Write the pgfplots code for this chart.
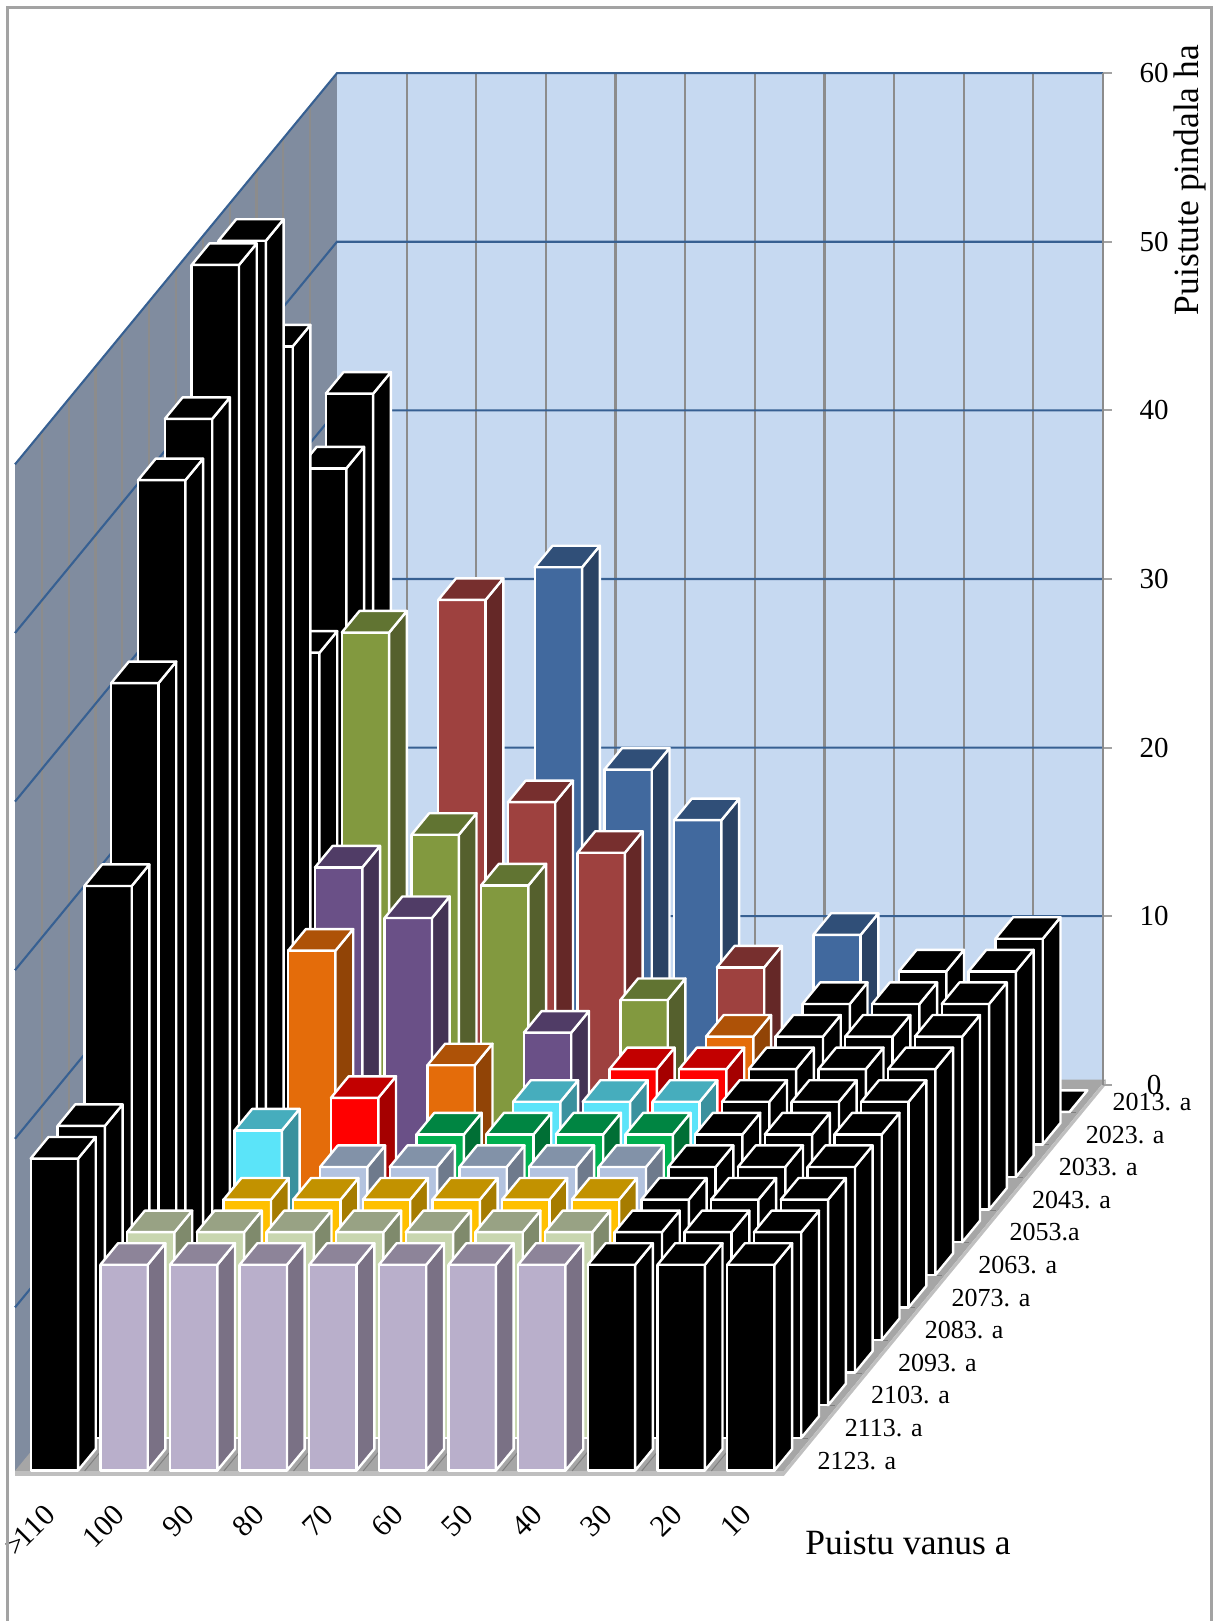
\documentclass[border=0pt]{standalone}
\usepackage{fontspec}
\setmainfont{Liberation Serif}
\usepackage{pgfplots}
\usepackage{pgfplotstable}
\pgfplotsset{compat=1.18}

% Stand area (ha) by age class (columns) and forecast year (rows, front to back)
\pgfplotstableread{
year c0 c1 c2 c3 c4 c5 c6 c7 c8 c9 c10
2123 18.5 12.2 12.2 12.2 12.2 12.2 12.2 12.2 12.2 12.2 12.2
2113 18.5 12.2 12.2 12.2 12.2 12.2 12.2 12.2 12.2 12.2 12.2
2103 30.8 0 12.2 12.2 12.2 12.2 12.2 12.2 12.2 12.2 12.2
2093 40.9 0 0 12.2 12.2 12.2 12.2 12.2 12.2 12.2 12.2
2083 51.0 0 0 0 12.2 12.2 12.2 12.2 12.2 12.2 12.2
2073 52.7 10.5 0 0 0 12.2 12.2 12.2 12.2 12.2 12.2
2063 59.9 0 10.5 0 0 0 12.2 12.2 12.2 12.2 12.2
2053 59.4 17.3 0 10.5 0 0 0 12.2 12.2 12.2 12.2
2043 51.2 20.3 17.3 0 10.5 0 0 0 12.2 12.2 12.2
2033 31.1 32.3 20.3 17.3 0 10.5 0 0 0 12.2 12.2
2023 40.1 0 32.3 20.3 17.3 0 10.5 0 0 0 12.2
2013 42.6 0 0 32.3 20.3 17.3 0 10.5 0 0 0
}\heights

% Face colours of the bars: front, top, right side
\definecolor{fk}{HTML}{000000}\definecolor{tk}{HTML}{000000}\definecolor{sk}{HTML}{000000}
\definecolor{f0}{HTML}{B9AFCB}\definecolor{t0}{HTML}{8D8499}\definecolor{s0}{HTML}{7A7185}
\definecolor{f1}{HTML}{C8D6AF}\definecolor{t1}{HTML}{98A284}\definecolor{s1}{HTML}{7F8A6C}
\definecolor{f2}{HTML}{FFC000}\definecolor{t2}{HTML}{C29200}\definecolor{s2}{HTML}{A67C00}
\definecolor{f3}{HTML}{B3C3DF}\definecolor{t3}{HTML}{8292A8}\definecolor{s3}{HTML}{6E7A8C}
\definecolor{f4}{HTML}{00B050}\definecolor{t4}{HTML}{008542}\definecolor{s4}{HTML}{006F35}
\definecolor{f5}{HTML}{5BE4F9}\definecolor{t5}{HTML}{46ADBD}\definecolor{s5}{HTML}{3A919E}
\definecolor{f6}{HTML}{FF0000}\definecolor{t6}{HTML}{C20000}\definecolor{s6}{HTML}{A50000}
\definecolor{f7}{HTML}{E46C0A}\definecolor{t7}{HTML}{AE5207}\definecolor{s7}{HTML}{914406}
\definecolor{f8}{HTML}{6A5087}\definecolor{t8}{HTML}{503C66}\definecolor{s8}{HTML}{433254}
\definecolor{f9}{HTML}{82993F}\definecolor{t9}{HTML}{617432}\definecolor{s9}{HTML}{55602D}
\definecolor{f10}{HTML}{9E413F}\definecolor{t10}{HTML}{772F2E}\definecolor{s10}{HTML}{652827}
\definecolor{f11}{HTML}{41699E}\definecolor{t11}{HTML}{304F78}\definecolor{s11}{HTML}{2A4264}
\definecolor{backwall}{HTML}{C6D9F1}
\definecolor{sidewall}{HTML}{808C9F}
\definecolor{floortop}{HTML}{A6A6A6}
\definecolor{floorrim}{HTML}{BFBFBF}
\definecolor{gridblue}{HTML}{376092}
\definecolor{gridgrey}{HTML}{8C8C8C}
\definecolor{framegrey}{HTML}{A3A3A3}

% One square column: x cell #1, depth cell #2, height #3, colour suffix #4
\newcommand{\column}[4]{%
  \pgfmathsetmacro{\xa}{#1+0.16}\pgfmathsetmacro{\xb}{#1+0.84}%
  \pgfmathsetmacro{\ya}{#2+0.17}\pgfmathsetmacro{\yb}{#2+0.83}%
  \edef\faces{%
    \noexpand\addplot3[barface,fill=f#4] coordinates {(\xa,\ya,0)(\xb,\ya,0)(\xb,\ya,#3)(\xa,\ya,#3)} -- cycle;%
    \noexpand\addplot3[barface,fill=s#4] coordinates {(\xb,\ya,0)(\xb,\yb,0)(\xb,\yb,#3)(\xb,\ya,#3)} -- cycle;%
    \noexpand\addplot3[barface,fill=t#4] coordinates {(\xa,\ya,#3)(\xb,\ya,#3)(\xb,\yb,#3)(\xa,\yb,#3)} -- cycle;%
  }\faces
}

\begin{document}
\begin{tikzpicture}[x=0.5pt,y=0.5pt]
\path[use as bounding box] (0,0) rectangle (1214,1621);
\begin{axis}[
  at={(7.5pt,72.5pt)}, anchor=origin,
  x={(34.82pt,0pt)}, y={(13.415pt,16.3pt)}, z={(0pt,8.43pt)},
  xmin=0, xmax=11, ymin=0, ymax=12, zmin=0, zmax=60,
  hide axis, clip=false,
  barface/.style={draw=white, line width=1.2pt, line join=round, mark=none},
  wall/.style={draw=none, mark=none},
  gridline/.style={line width=1.05pt, mark=none},
]
% walls and floor
\addplot3[wall,fill=backwall] coordinates {(0,12,0)(11,12,0)(11,12,60)(0,12,60)} -- cycle;
\addplot3[wall,fill=sidewall] coordinates {(0,0,0)(0,12,0)(0,12,60)(0,0,60)} -- cycle;
% grid on the back wall and the side wall
\pgfplotsforeachungrouped \k in {1,...,11}{%
  \edef\tmp{\noexpand\addplot3[gridline,gridgrey] coordinates {(0,\k,0)(0,\k,60)};
            \noexpand\addplot3[gridline,gridgrey] coordinates {(\k,12,0)(\k,12,60)};}\tmp}
\pgfplotsforeachungrouped \v in {10,20,...,60}{%
  \edef\tmp{\noexpand\addplot3[gridline,gridblue] coordinates {(0,0,\v)(0,12,\v)(11,12,\v)};}\tmp}
% floor slab
\addplot3[wall,fill=floortop] coordinates {(0,0,0.3)(11.04,0,0.3)(11.04,12,0.3)(0,12,0.3)} -- cycle;
\addplot3[wall,fill=floorrim] coordinates {(0,0,0)(11.04,0,0)(11.04,0,0.3)(0,0,0.3)} -- cycle;
\addplot3[wall,fill=floorrim] coordinates {(11.04,0,0)(11.04,12,0)(11.04,12,0.3)(11.04,0,0.3)} -- cycle;
\pgfplotsforeachungrouped \k in {1,...,10}{%
  \edef\tmp{\noexpand\addplot3[line width=0.5pt,gray,mark=none] coordinates {(\k,0,0.3)(\k,12,0.3)};}\tmp}
\pgfplotsforeachungrouped \k in {1,...,11}{%
  \edef\tmp{\noexpand\addplot3[line width=0.5pt,gray,mark=none] coordinates {(0,\k,0.3)(11,\k,0.3)};}\tmp}
% columns, painted from the back row to the front and from left to right
\pgfplotsforeachungrouped \j in {11,10,...,0}{%
  \pgfplotsforeachungrouped \i in {0,...,10}{%
    \pgfplotstablegetelem{\j}{c\i}\of\heights
    \let\h\pgfplotsretval
    \ifnum\i=0 \def\cc{k}\else\ifnum\i>7 \def\cc{k}\else\let\cc\j\fi\fi
    \edef\tmpb{\noexpand\column{\i}{\j}{\h}{\cc}}\tmpb
  }%
}
% value axis
\pgfplotsforeachungrouped \v in {0,10,...,60}{%
  \edef\tmp{\noexpand\draw[framegrey,line width=1.05pt] (axis cs:11,12,\v) -- ++(4.5pt,0pt)
    node[pos=1,anchor=center,xshift=21pt,text=black,font=\noexpand\fontsize{14.5pt}{16pt}\noexpand\selectfont] {\v};}\tmp}
\addplot3[gridline,gridgrey] coordinates {(11,12,0)(11,12,60)};
% age classes
\pgfplotsforeachungrouped \i/\lab in {0/{>\kern-2pt 110},1/100,2/90,3/80,4/70,5/60,6/50,7/40,8/30,9/20,10/10}{%
  \pgfmathsetmacro{\xp}{\i+0.5}
  \edef\tmp{\noexpand\node[rotate=45,anchor=east,xshift=-8.6pt,yshift=-12.2pt,font=\noexpand\fontsize{15pt}{17pt}\noexpand\selectfont] at (axis cs:\xp,0,0) {\unexpanded\expandafter{\lab}};}\tmp}
% forecast years
\pgfplotsforeachungrouped \j/\lab in {0/2123. a,1/2113. a,2/2103. a,3/2093. a,4/2083. a,5/2073. a,6/2063. a,7/2053.a,8/2043. a,9/2033. a,10/2023. a,11/2013. a}{%
  \pgfmathsetmacro{\yp}{\j+0.5}
  \edef\tmp{\noexpand\node[anchor=center,xshift=31.2pt,yshift=-0.5pt,font=\noexpand\fontsize{13pt}{15pt}\noexpand\selectfont] at (axis cs:11,\yp,0) {\lab};}\tmp}
\end{axis}
% axis titles and outer frame
\node[font=\fontsize{17.75pt}{20pt}\selectfont] at (908,78) {Puistu vanus a};
\node[rotate=90,font=\fontsize{17.75pt}{20pt}\selectfont] at (1190,1441) {Puistute pindala ha};
\draw[framegrey,line width=1.5pt] (7.5,0) -- (7.5,1613) -- (1211,1613) -- (1211,0);
\end{tikzpicture}
\end{document}
